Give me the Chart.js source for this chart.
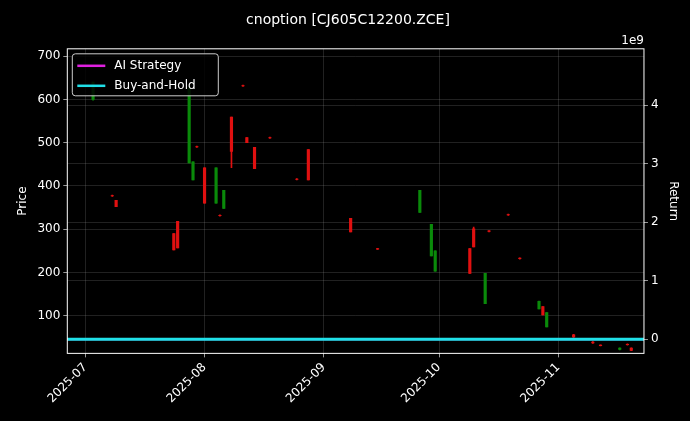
<!DOCTYPE html>
<html>
<head>
<meta charset="utf-8">
<script src="https://cdn.jsdelivr.net/npm/chart.js@4"></script>
<style>
  html, body { margin: 0; padding: 0; background: #000; }
  #wrap { width: 690px; height: 421px; }
</style>
</head>
<body>
<div id="wrap"><canvas id="myChart"></canvas></div>
<script>
// days counted from 2025-07-01 (red = up, green = down)
const days   = [2,   7,   8,   23,  24,  27,  28,  29,  31,  34,  35,  36,  38,  41,  42,  44,  48,  55,  58,  69,  76,  87,  90,  91,  100, 101, 104, 105, 110, 113, 118, 119, 120, 127, 132, 134, 139, 141, 142];
const opens  = [640, 377, 352, 252, 257, 625, 456, 490, 360, 442, 331, 390, 480, 631, 500, 440, 511, 415, 414, 294, 254, 390, 311, 250, 198, 259, 198, 295, 333, 232, 133, 102, 107, 51,  37,  31,  25,  33,  20];
const closes = [600, 378, 367, 290, 318, 453, 414, 491, 442, 360, 332, 348, 559, 632, 512, 489, 512, 416, 484, 325, 255, 339, 238, 203, 255, 301, 128, 296, 334, 233, 116, 121, 74,  56,  39,  32,  22,  34,  25];
const highs  = [640, 379, 367, 290, 318, 630, 456, 492, 442, 442, 333, 390, 559, 633, 512, 489, 513, 417, 484, 325, 256, 390, 311, 250, 255, 305, 198, 297, 335, 234, 134, 121, 107, 57,  40,  33,  26,  35,  26];
const lows   = [598, 376, 352, 252, 257, 453, 414, 489, 360, 360, 330, 348, 442, 630, 500, 440, 510, 414, 414, 294, 253, 339, 238, 203, 198, 259, 128, 294, 332, 231, 116, 102, 74,  50,  36,  30,  21,  32,  19];

const returnDays = [-6, 147];
const aiReturn   = [0, 0];
const bhReturn   = [0, 0];

const monthTicks  = [0, 31, 62, 92, 123];
const monthLabels = ['2025-07', '2025-08', '2025-09', '2025-10', '2025-11'];

const up = '#e01010';
const down = '#0a8a0a';
const colors = days.map((d, i) => closes[i] >= opens[i] ? up : down);

const grid = { color: 'rgba(160,160,160,0.35)', lineWidth: 0.6, borderDash: [3, 3], offset: false, tickColor: '#fff', tickLength: 4 };
const font = { size: 12, family: 'DejaVu Sans' };

const overlay = {
  id: 'overlay',
  afterDraw(chart) {
    const c = chart.ctx, a = chart.chartArea;
    c.save();
    // frame
    c.strokeStyle = '#fff'; c.lineWidth = 1;
    c.strokeRect(a.left, a.top, a.right - a.left, a.bottom - a.top);
    // exponent
    c.fillStyle = '#fff'; c.font = '12px "DejaVu Sans"';
    c.textAlign = 'right'; c.textBaseline = 'bottom';
    c.fillText('1e9', a.right, a.top - 2);
    // legend
    const x = a.left + 5, y = a.top + 5;
    c.fillStyle = 'rgba(0,0,0,0.85)';
    c.strokeStyle = '#ccc';
    c.beginPath(); c.roundRect(x, y, 146, 42, 3); c.fill(); c.stroke();
    const items = [['AI Strategy', '#e020e0'], ['Buy-and-Hold', '#20e0e8']];
    items.forEach((it, i) => {
      const yy = y + 12 + i * 20;
      c.strokeStyle = it[1]; c.lineWidth = 2.5;
      c.beginPath(); c.moveTo(x + 5, yy); c.lineTo(x + 33, yy); c.stroke();
      c.fillStyle = '#fff'; c.textAlign = 'left'; c.textBaseline = 'middle';
      c.fillText(it[0], x + 42, yy);
    });
    c.restore();
  }
};

new Chart(document.getElementById('myChart'), {
  data: {
    datasets: [{
      type: 'line',
      label: 'Buy-and-Hold',
      data: returnDays.map((d, i) => ({ x: d, y: bhReturn[i] })),
      yAxisID: 'y2',
      borderColor: '#20e0e8',
      borderWidth: 3,
      pointRadius: 0,
      order: 0
    }, {
      type: 'line',
      label: 'AI Strategy',
      data: returnDays.map((d, i) => ({ x: d, y: aiReturn[i] })),
      yAxisID: 'y2',
      borderColor: '#e020e0',
      borderWidth: 2,
      pointRadius: 0,
      order: 1
    }, {
      type: 'bar',
      label: 'wick',
      data: days.map((d, i) => ({ x: d, y: [lows[i], highs[i]] })),
      yAxisID: 'y',
      backgroundColor: colors,
      barThickness: 1,
      grouped: false,
      order: 3
    }, {
      type: 'bar',
      label: 'body',
      data: days.map((d, i) => ({ x: d, y: [opens[i], closes[i]] })),
      yAxisID: 'y',
      backgroundColor: colors,
      barThickness: 2.5,
      grouped: false,
      order: 2
    }]
  },
  options: {
    responsive: true,
    maintainAspectRatio: false,
    animation: false,
    layout: { padding: { left: 12, right: 6, top: 8, bottom: 12 } },
    plugins: {
      legend: { display: false },
      tooltip: { enabled: false },
      title: {
        display: true,
        text: 'cnoption [CJ605C12200.ZCE]',
        color: '#fff',
        font: { size: 14, family: 'DejaVu Sans', weight: 'normal' },
        padding: { top: 4, bottom: 20 }
      }
    },
    scales: {
      x: {
        type: 'linear',
        min: -4.7,
        max: 145.3,
        offset: false,
        grid: grid,
        border: { display: false },
        afterBuildTicks: (axis) => { axis.ticks = monthTicks.map(v => ({ value: v })); },
        ticks: {
          color: '#fff',
          font: font,
          minRotation: 45,
          maxRotation: 45,
          callback: (v) => monthLabels[monthTicks.indexOf(v)]
        }
      },
      y: {
        position: 'left',
        min: 13,
        max: 717,
        grid: grid,
        border: { display: false },
        afterBuildTicks: (axis) => { axis.ticks = [100, 200, 300, 400, 500, 600, 700].map(v => ({ value: v })); },
        ticks: { color: '#fff', font: font },
        title: { display: true, text: 'Price', color: '#fff', font: font }
      },
      y2: {
        position: 'right',
        min: -0.24e9,
        max: 4.96e9,
        grid: grid,
        border: { display: false },
        afterBuildTicks: (axis) => { axis.ticks = [0, 1e9, 2e9, 3e9, 4e9].map(v => ({ value: v })); },
        ticks: { color: '#fff', font: font, callback: (v) => String(v / 1e9) },
        title: { display: true, text: 'Return', color: '#fff', font: font }
      }
    }
  },
  plugins: [overlay]
});
</script>
</body>
</html>
